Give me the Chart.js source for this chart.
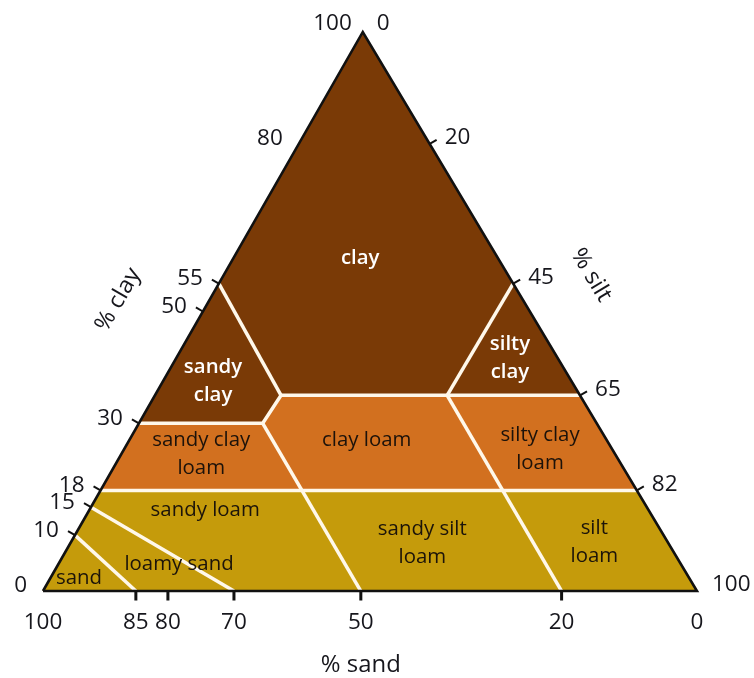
<!DOCTYPE html>
<html><head><meta charset="utf-8">
<script src="https://cdn.jsdelivr.net/npm/chart.js@4.4.1/dist/chart.umd.min.js"></script>
<style>html,body{margin:0;padding:0;background:#fff;}#wrap{width:754px;height:678px;position:relative;}</style>
</head><body><div id="wrap"><canvas id="c" width="754" height="678"></canvas></div>
<script>
// ---------------- data ----------------
// horizontal coordinate = position along the base, % of base width (left vertex = 0)
// vertical coordinate = % clay
const apexX = 48.9;
const clayTickLabels = [100, 80, 55, 50, 30, 18, 15, 10, 0];
const clayTickMarks = [55, 50, 30, 18, 15, 10];
const siltTickLabels = [0, 20, 45, 65, 82, 100];
const siltTickMarks = [20, 45, 65, 82];
const sandTickLabels = [100, 85, 80, 70, 50, 20, 0];
const sandTickX = [0, 14.2, 19.1, 29.2, 48.6, 79.3, 100];
const sandTickMarks = [85, 80, 70, 50, 20];

// interior boundary corners [x along base %, clay %]
const innerNodes = { C1: [36.4, 35], C2: [61.8, 35], S1: [33.6, 30], CL1: [39.6, 18], CL2: [70.3, 18] };

const classNames = ['clay', 'silty clay', 'sandy clay', 'sandy clay loam', 'clay loam', 'silty clay loam',
  'sandy loam', 'loamy sand', 'sand', 'sandy silt loam', 'silt loam'];
const classGroup = [0, 0, 0, 1, 1, 1, 2, 2, 2, 2, 2];
const classVertices = [
  ['A', 'R55', 'C2', 'C1', 'L55'],
  ['R55', 'R35', 'C2'],
  ['L55', 'C1', 'S1', 'L30'],
  ['L30', 'S1', 'CL1', 'L18'],
  ['C1', 'C2', 'CL2', 'CL1', 'S1'],
  ['C2', 'R35', 'R18', 'CL2'],
  ['L18', 'CL1', 'B50', 'B70', 'L15'],
  ['L15', 'B70', 'B85', 'L10'],
  ['L10', 'B85', 'L0'],
  ['CL1', 'CL2', 'B20', 'B50'],
  ['CL2', 'R18', 'R0', 'B20']
];
const classLabelLines = [['clay'], ['silty', 'clay'], ['sandy', 'clay'], ['sandy clay', 'loam'], ['clay loam'],
  ['silty clay', 'loam'], ['sandy loam'], ['loamy sand'], ['sand'], ['sandy silt', 'loam'], ['silt', 'loam']];
const boundaryLines = [
  ['L55', 'C1'], ['R55', 'C2'], ['L30', 'S1', 'C1', 'R35'], ['S1', 'B50'], ['C2', 'B20'],
  ['L18', 'R18'], ['L15', 'B70'], ['L10', 'B85']
];

// ---------------- layout / style ----------------
const labelAnchors = [[48.5, 59.6], [71.4, 41.7], [26.0, 37.6], [24.2, 24.5], [49.5, 27.0], [76.0, 25.4],
  [24.8, 14.5], [20.8, 4.8], [5.5, 2.3], [58.0, 8.6], [84.3, 8.8]];
const groupColors = ['#7a3a06', '#d2701f', '#c59b0b'];
const groupText = ['#ffffff', '#1c120a', '#1c140a'];
const lineColor = '#fff8ea';
const FONT = '"Open Sans", "DejaVu Sans", sans-serif';

function leftEdge(c) { return [apexX * c / 100, c]; }
function rightEdge(c) { return [100 - (100 - apexX) * c / 100, c]; }
function sandX(s) { return sandTickX[sandTickLabels.indexOf(s)]; }
function node(n) {
  if (n === 'A') return [apexX, 100];
  if (innerNodes[n]) return innerNodes[n];
  const v = parseFloat(n.slice(1));
  if (n[0] === 'L') return leftEdge(v);
  if (n[0] === 'R') return rightEdge(v);
  if (n[0] === 'B') return [sandX(v), 0];
}
const pt = p => ({ x: p[0], y: p[1] });

const datasets = [];
classVertices.forEach((vs, i) => {
  const pts = vs.concat([vs[0]]).map(n => pt(node(n)));
  const col = groupColors[classGroup[i]];
  datasets.push({ label: classNames[i], data: pts, fill: 'shape', backgroundColor: col, borderColor: col,
    borderWidth: 1, pointRadius: 0, tension: 0, order: 5, clip: false });
});
boundaryLines.forEach(vs => {
  datasets.push({ data: vs.map(n => pt(node(n))), fill: false, borderColor: lineColor, borderWidth: 3.5,
    pointRadius: 0, tension: 0, order: 4, clip: false, borderCapStyle: 'butt' });
});
datasets.push({ data: ['L0', 'A', 'R0', 'L0'].map(n => pt(node(n))), fill: false, borderColor: '#111',
  borderWidth: 2.6, pointRadius: 0, tension: 0, order: 3, clip: false, borderJoinStyle: 'miter' });
// tick marks (small outward strokes)
clayTickMarks.forEach(c => {
  const p = leftEdge(c);
  datasets.push({ data: [pt(p), { x: p[0] - 1.07, y: p[1] + 0.72 }], fill: false, borderColor: '#111',
    borderWidth: 2, pointRadius: 0, order: 2, clip: false });
});
siltTickMarks.forEach(s => {
  const p = rightEdge(100 - s);
  datasets.push({ data: [pt(p), { x: p[0] + 1.07, y: p[1] + 0.72 }], fill: false, borderColor: '#111',
    borderWidth: 2, pointRadius: 0, order: 2, clip: false });
});
sandTickMarks.forEach(s => {
  const x = sandX(s);
  datasets.push({ data: [{ x: x, y: 0 }, { x: x, y: -1.7 }], fill: false, borderColor: '#111',
    borderWidth: 3, pointRadius: 0, order: 2, clip: false, borderCapStyle: 'butt' });
});

function drawText(ctx, txt, x, y, o) {
  ctx.save();
  ctx.translate(x, y);
  if (o.rot) ctx.rotate(o.rot);
  ctx.scale(o.sx || 1, 1);
  ctx.font = (o.weight || 400) + ' ' + o.size + 'px ' + FONT;
  ctx.fillStyle = o.color || '#16161c';
  ctx.textAlign = o.align || 'center';
  ctx.textBaseline = 'middle';
  ctx.fillText(txt, 0, 0);
  ctx.restore();
}

const textPlugin = {
  id: 'ternaryText',
  afterDatasetsDraw(chart) {
    const ctx = chart.ctx, xs = chart.scales.x, ys = chart.scales.y;
    const X = v => xs.getPixelForValue(v), Y = v => ys.getPixelForValue(v);
    // class labels
    classLabelLines.forEach((lines, i) => {
      const g = classGroup[i];
      const cx = X(labelAnchors[i][0]), cy = Y(labelAnchors[i][1]);
      const lh = 28, top = cy - (lines.length - 1) * lh / 2;
      lines.forEach((t, k) => drawText(ctx, t, cx, top + k * lh,
        { size: 20, color: groupText[g], weight: g === 0 ? 600 : 500, sx: 1.02 }));
    });
    const numOpt = { size: 22.5, sx: 1.0, weight: 400 };
    // clay labels (left edge)
    clayTickLabels.forEach(c => {
      const p = leftEdge(c);
      const dx = c === 100 ? -11 : -16, dy = c === 100 ? -8 : -5;
      drawText(ctx, String(c), X(p[0]) + dx, Y(p[1]) + dy, Object.assign({ align: 'right' }, numOpt));
    });
    // silt labels (right edge)
    siltTickLabels.forEach(s => {
      const p = rightEdge(100 - s);
      const dx = s === 0 ? 14 : 15, dy = s === 0 ? -8 : -6;
      drawText(ctx, String(s), X(p[0]) + dx, Y(p[1]) + dy, Object.assign({ align: 'left' }, numOpt));
    });
    // sand labels (base)
    sandTickLabels.forEach((s, i) => {
      drawText(ctx, String(s), X(sandTickX[i]), Y(0) + 32, numOpt);
    });
    // axis titles
    const l0 = [X(0), Y(0)], ap = [X(apexX), Y(100)], r0 = [X(100), Y(0)];
    const tOpt = { size: 23, sx: 1.04 };
    drawText(ctx, '% sand', X(48.6), Y(0) + 74, tOpt);
    drawText(ctx, '% clay', X(11.5), Y(52.1), Object.assign({
      rot: Math.atan2(ap[1] - l0[1], ap[0] - l0[0]) }, tOpt));
    drawText(ctx, '% silt', X(83.8), Y(56.5), Object.assign({
      rot: Math.atan2(r0[1] - ap[1], r0[0] - ap[0]) }, tOpt));
  }
};

new Chart(document.getElementById('c'), {
  type: 'line',
  data: { datasets: datasets },
  options: {
    responsive: false,
    animation: false,
    events: [],
    layout: { padding: 0 },
    scales: {
      x: { type: 'linear', display: false, min: -6.575, max: 108.72 },
      y: { type: 'linear', display: false, min: -15.56, max: 105.72 }
    },
    plugins: { legend: { display: false }, tooltip: { enabled: false }, filler: { propagate: false } }
  },
  plugins: [textPlugin]
});
</script></body></html>
